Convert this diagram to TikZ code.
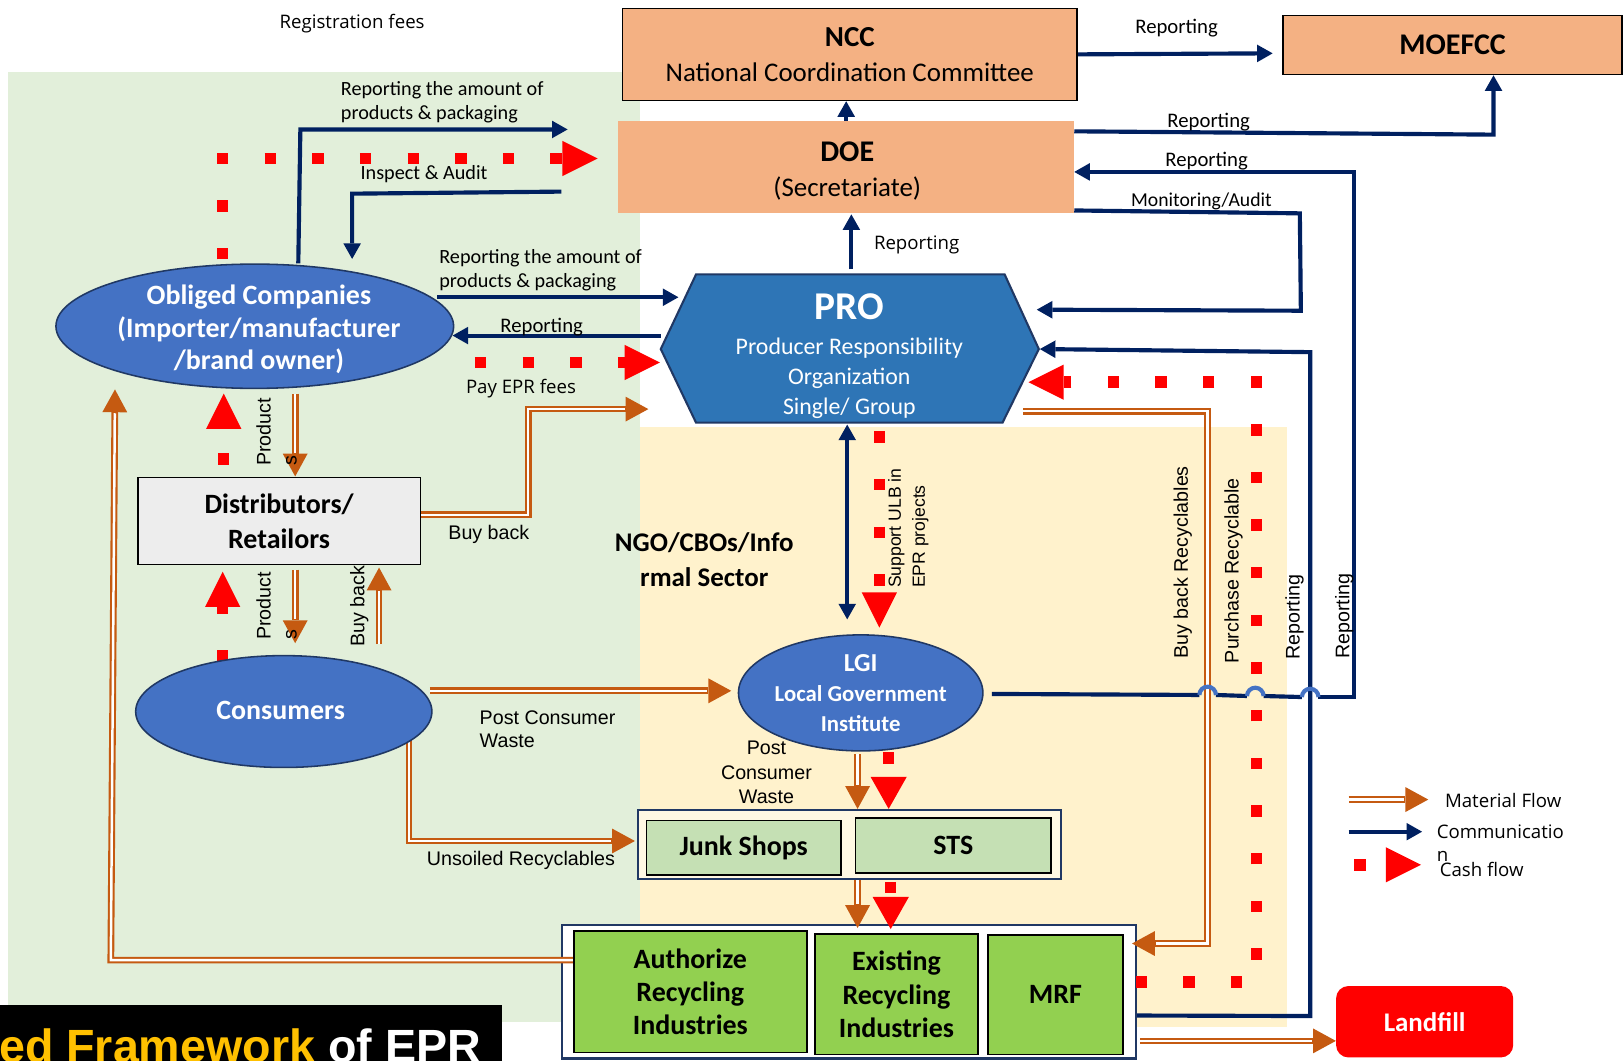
\documentclass[tikz,border=0pt]{standalone}
\usepackage{fontspec}
\setmainfont{Carlito}
\newfontfamily\arialf{Liberation Sans}
\newfontfamily\osansf{Open Sans}
\usetikzlibrary{shapes.geometric,arrows.meta,calc}
\newcommand\fs[2]{\fontsize{#1}{#2}\selectfont}
\definecolor{peach}{HTML}{F4B183}
\definecolor{bggreen}{HTML}{E2EFDA}
\definecolor{bgyellow}{HTML}{FFF2CC}
\definecolor{eblue}{HTML}{4472C4}
\definecolor{eborder}{HTML}{203864}
\definecolor{problue}{HTML}{2E75B6}
\definecolor{navy}{HTML}{002060}
\definecolor{morange}{HTML}{C55A11}
\definecolor{jgreen}{HTML}{C5E0B4}
\definecolor{rgreen}{HTML}{92D050}
\definecolor{dgrey}{HTML}{EDEDED}
\definecolor{gold}{HTML}{FFC000}
\pgfdeclarelayer{bg}\pgfdeclarelayer{lines}
\pgfsetlayers{bg,lines,main}
\tikzset{
 comm/.style={draw=navy, line width=4pt, -{Triangle[length=15pt,width=17pt,line width=0pt]}},
 commline/.style={draw=navy, line width=4pt},
 jump/.style={draw=eblue, line width=4pt},
 mflow/.style={draw=morange, line width=6.5pt, -{Triangle[length=22pt,width=24pt,line width=0pt]}, postaction={draw=white, line width=2.4pt, -, shorten >=23pt}},
 cash/.style={draw=red, line width=11pt, dash pattern=on 11pt off 35pt, -{Triangle[length=34pt,width=34pt,line width=0pt]}},
 cashs/.style={cash, -{Triangle[length=31pt,width=35pt,line width=0pt]}},
 box/.style={rectangle, inner sep=0pt, align=center},
 bnode/.style={box, font=\bfseries\fs{27}{32}},
 ell/.style={ellipse, fill=eblue, draw=eborder, line width=1.5pt, inner sep=0pt},
 lab/.style={inner sep=0pt, font=\fs{20}{23}},
 alab/.style={inner sep=0pt, font=\arialf\fs{19}{23}},
 olab/.style={inner sep=0pt, font=\osansf\fs{18}{22}},
}
\begin{document}
\begin{tikzpicture}[x=1pt,y=-1pt]
\useasboundingbox (0,0) rectangle (1568,1024);
\begin{pgfonlayer}{bg}
\fill[white] (0,0) rectangle (1568,1024);
\fill[bggreen] (8,70) rectangle (618,987);
\fill[bgyellow] (618,412) rectangle (1243,992);
\node[box, fill=bgyellow!55!white, draw=eborder, line width=2pt, minimum width=408pt, minimum height=67pt] (jsframe) at (820,815.5) {};
\node[box, fill=white, draw=eborder, line width=2pt, minimum width=554pt, minimum height=129pt] (recframe) at (820,957.5) {};
\end{pgfonlayer}

% title
\begin{scope}
\clip (0,970) rectangle (485,1024);
\fill[black] (0,970) rectangle (485,1024);
\node[anchor=base west, inner sep=0pt, text=white, font=\arialf\bfseries\fs{45}{50}] (title) at (-1,1026) {\textcolor{gold}{ed Framework} of EPR};
\end{scope}

% boxes
\node[box, fill=peach, draw=black, line width=1.5pt, minimum width=439pt, minimum height=89pt, font=\fs{26}{34}] (ncc) at (820.5,52.5) {{\bfseries\fs{28}{34}NCC}\\National Coordination Committee};
\node[box, fill=peach, draw=black, line width=1.5pt, minimum width=327pt, minimum height=57pt, font=\bfseries\fs{29}{34}] (moefcc) at (1402.5,43.5) {MOEFCC};
\node[box, fill=peach, minimum width=440pt, minimum height=89pt, font=\fs{26}{34}] (doe) at (817,161.5) {};
\node[box, font=\fs{26}{34}] (doetext) at (818,165) {{\bfseries\fs{29}{34}DOE}\\(Secretariate)};

\draw[fill=problue, draw=eborder, line width=2pt] (638,337) -- (672,265) -- (970,265) -- (1003,337) -- (968,408) -- (672,408) -- cycle;
\node[box, minimum width=365pt, minimum height=143pt] (pro) at (820.5,337) {};
\node[box, text=white, font=\fs{23}{29}] (protext) at (820,344) {{\bfseries\fs{38}{40}PRO}\\[5pt]Producer Responsibility\\Organization\\Single/ Group};

\node[ell, minimum width=384pt, minimum height=120pt] (oc) at (246,315) {};
\node[box, text=white, font=\bfseries\fs{27}{31.5}] (octext) at (250,318) {Obliged Companies\\(Importer/manufacturer\\/brand owner)};

\node[box, fill=dgrey, draw=black, line width=1.5pt, minimum width=273pt, minimum height=84pt, font=\bfseries\fs{27}{34}] (dist) at (269.5,503) {Distributors/\\Retailors};

\node[ell, minimum width=286pt, minimum height=108pt, text=white, font=\bfseries\fs{27}{32}] (cons) at (274,687) {};
\node[box, text=white, font=\bfseries\fs{27}{32}] (constext) at (271,686) {Consumers};

\node[ell, minimum width=236pt, minimum height=112pt] (lgi) at (831,669) {};
\node[box, text=white, font=\bfseries\fs{22}{29}] (lgitext) at (831,669) {{\fs{25}{29}LGI}\\Local Government\\Institute};

\node[bnode, font=\bfseries\fs{26}{34}] (ngo) at (680,540) {NGO/CBOs/Info\\rmal Sector};

\node[bnode, fill=jgreen, draw=black, line width=1.5pt, minimum width=188pt, minimum height=53pt] (junk) at (718,818.5) {Junk Shops};
\node[bnode, fill=jgreen, draw=black, line width=1.5pt, minimum width=189pt, minimum height=53pt] (sts) at (920.5,816.5) {STS};

\node[bnode, fill=rgreen, draw=black, line width=1.5pt, minimum width=225pt, minimum height=117pt] (auth) at (666.5,957.5) {Authorize\\Recycling\\Industries};
\node[bnode, fill=rgreen, draw=black, line width=1.5pt, minimum width=157pt, minimum height=116pt] (exist) at (865.5,960) {Existing\\Recycling\\Industries};
\node[bnode, fill=rgreen, draw=black, line width=1.5pt, minimum width=130pt, minimum height=115pt] (mrf) at (1019,960.5) {MRF};

\node[box, fill=red, rounded corners=12pt, minimum width=171pt, minimum height=69pt, text=white, font=\bfseries\fs{26}{30}] (landfill) at (1375.5,986.5) {Landfill};

% labels
\node[olab] (regfees) at (340,23) {Registration fees};
\node[lab, align=left, anchor=west, font=\fs{19.5}{23}] (rep1) at (329,99) {Reporting the amount of\\products \& packaging};
\node[lab, anchor=west, font=\fs{19.5}{23}] (inspect) at (348,168) {Inspect \& Audit};
\node[lab, align=left, anchor=west, font=\fs{19.5}{23}] (rep2) at (424,261) {Reporting the amount of\\products \& packaging};
\node[lab] (rep3) at (523,316) {Reporting};
\node[olab] (payepr) at (503,375) {Pay EPR fees};
\node[alab] (buyback1) at (472,516) {Buy back};
\node[alab, rotate=90, align=left, font=\arialf\fs{19}{25}] (prod1) at (267,417) {Product\\s};
\node[alab, rotate=90, align=left, font=\arialf\fs{19}{25}] (prod2) at (267,585) {Product\\s};
\node[alab, rotate=90] (buyback2) at (347,585) {Buy back};
\node[alab, align=left, anchor=west] (pcw1) at (463,704) {Post Consumer\\Waste};
\node[alab] (unsoiled) at (503,831) {Unsoiled Recyclables};
\node[alab, align=center, font=\arialf\fs{19}{23.5}] (pcw2) at (740,746) {Post\\Consumer\\Waste};
\node[alab, rotate=90, align=left, font=\arialf\fs{17}{23}] (support) at (877,510) {Support ULB in\\EPR projects};
\node[olab] (rep4) at (885,236) {Reporting};
\node[lab] (rep5) at (1136,27) {Reporting};
\node[lab] (rep6) at (1167,118) {Reporting};
\node[lab] (rep7) at (1165,156) {Reporting};
\node[lab, font=\fs{19}{23}] (monit) at (1160,194) {Monitoring/Audit};
\node[alab, rotate=90] (bbrec) at (1142,543) {Buy back Recyclables};
\node[alab, rotate=90] (purch) at (1191,551) {Purchase Recyclable};
\node[alab, rotate=90] (rep8) at (1250,596) {Reporting};
\node[alab, rotate=90] (rep9) at (1298,595) {Reporting};

% legend
\coordinate (lm1) at (1302,772); \coordinate (lm2) at (1379,772);
\coordinate (lc1) at (1302,803); \coordinate (lc2) at (1373,803);
\coordinate (lr1) at (1307.5,835); \coordinate (lr2) at (1372,835);
\node[olab, anchor=west] (legm) at (1395,773) {Material Flow};
\node[olab, anchor=north west, align=left] (legc) at (1387,796) {Communicatio\\n};
\node[olab, anchor=west] (legr) at (1390,839) {Cash flow};

\begin{pgfonlayer}{lines}
% communication
\draw[comm] (doe.north) -- (doe.north |- ncc.south);
\draw[comm] (ncc.east) -- ++(188,-1);
\draw[comm] ($(doe.north east)+(0,10)$) -- (1442,130) -- (1442,0 |- moefcc.south);
\draw[commline] ($(lgi.east)+(8,1)$) -- (1158,671);
\draw[commline] (1174,671) -- (1204,672);
\draw[commline] (1220,672) -- (1257,673);
\draw[comm] (1273,673) -- (1307,673) -- (1307,166) -- (doe.east |- 0,166);
\draw[comm] ($(doe.south east)+(0,-3)$) -- (1255,206) -- (1256,300) -- (1001,299);
\draw[comm] ($(recframe.east)+(0,23)$) -- (1265,981) -- (1265,340) -- (1004,337);
\draw[comm] ($(oc.north)+(42,0)$) -- (290,125) -- (548,125);
\coordinate (inspstart) at (542,185);
\draw[comm] (inspstart) -- (340,187) -- (340,250);
\draw[comm] (422,287) -- (655,287);
\draw[comm] (638,324) -- (437,324);
\draw[comm] (822,260) -- (822,207);
\draw[comm, {Triangle[length=15pt,width=17pt,line width=0pt]}-{Triangle[length=15pt,width=17pt,line width=0pt]}] (818,410) -- (818,598);
\draw[comm] (lc1) -- (lc2);
% material flow
\draw[mflow] (285,380) -- (285,460);
\draw[mflow] (285,550) -- (285,621);
\draw[mflow] (366,622) -- (366,548);
\draw[mflow] (dist.east |- 0,497) -- (510,497) -- (510,395) -- (626,395);
\draw[mflow] (415,667) -- (706,667);
\draw[mflow] (395,712) -- (395,812) -- (613,812);
\draw[mflow] (828,728) -- (828,781);
\draw[mflow] (828,850) -- (828,896);
\draw[mflow] (auth.west |- 0,927) -- (107,927) -- (111,376);
\draw[mflow] (988,397) -- (1166,397) -- (1166,911) -- (1093,911);
\draw[mflow] (1101,1005) -- (landfill.west |- 0,1005);
\draw[mflow] (lm1) -- (lm2);
% cash flow
\draw[cash] (215,250.5) -- (215,153) -- (577,153);
\draw[cash] (458.5,350) -- (637,350);
\draw[cash] (849,416.5) -- (849,606);
\draw[cashs] (858,726.5) -- (858,781);
\draw[cashs] (860,851.5) -- (860,897);
\draw[cash] (1096.5,948) -- (1213,948) -- (1213,369) -- (993,369);
\draw[cash] (216,448.5) -- (216,380);
\draw[cash] (215,638.5) -- (215,552);
\draw[cash] (lr1) -- (lr2);
\end{pgfonlayer}
% line jumps
\draw[jump] (1158,671) arc[start angle=180,end angle=360,radius=8];
\draw[jump] (1204,672) arc[start angle=180,end angle=360,radius=8];
\draw[jump] (1257,673) arc[start angle=180,end angle=360,radius=8];
\end{tikzpicture}
\end{document}
